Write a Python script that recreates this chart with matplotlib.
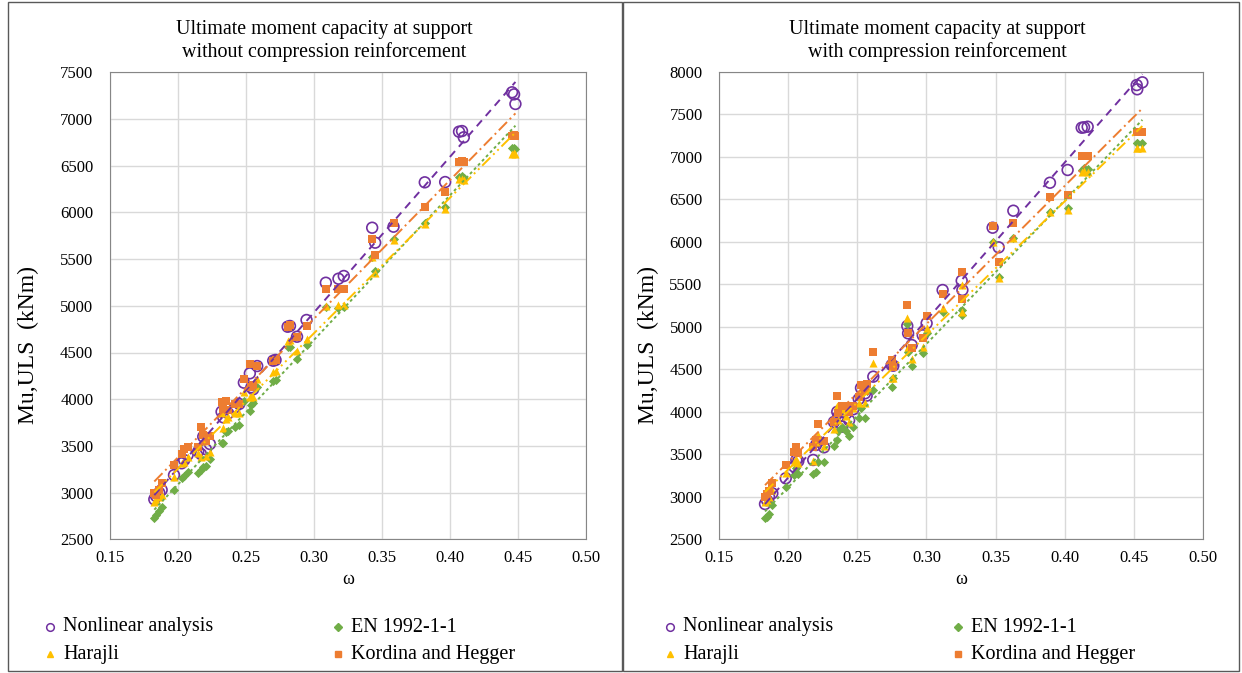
import numpy as np
import matplotlib
matplotlib.use('Agg')
import matplotlib.pyplot as plt
from matplotlib.lines import Line2D
from matplotlib.patches import Rectangle

plt.rcParams['font.family'] = ['Liberation Serif', 'DejaVu Serif']

# --- dados: painel esquerdo (sem armadura de compressao) ---
omega_esq = [0.1826, 0.1838, 0.1862, 0.1880, 0.1971, 0.2027, 0.2046, 0.2071, 0.2149, 0.2169,
             0.2186, 0.2206, 0.2235, 0.2321, 0.2333, 0.2353, 0.2370, 0.2419, 0.2451, 0.2485,
             0.2529, 0.2540, 0.2553, 0.2583, 0.2701, 0.2718, 0.2807, 0.2824, 0.2876, 0.2946,
             0.3088, 0.3181, 0.3220, 0.3429, 0.3451, 0.3586, 0.3816, 0.3966, 0.4068, 0.4090,
             0.4103, 0.4458, 0.4473, 0.4483]
nl_esq = [2928, 2964, 2999, 3028, 3188, 3314, 3349, 3403, 3440, 3413,
          3599, 3464, 3520, 3866, 3806, 3913, 3849, 3913, 3949, 4177,
          4277, 4127, 4106, 4355, 4412, 4420, 4776, 4784, 4669, 4848,
          5247, 5290, 5319, 5836, 5676, 5847, 6322, 6325, 6864, 6871,
          6804, 7286, 7264, 7161]
en_esq = [2725, 2760, 2800, 2849, 3028, 3153, 3178, 3224, 3210, 3242,
          3271, 3285, 3357, 3534, 3534, 3646, 3660, 3706, 3724, 3984,
          3877, 3938, 3960, 4127, 4198, 4206, 4563, 4563, 4427, 4580,
          4990, 4980, 4985, 5526, 5369, 5715, 5890, 6061, 6380, 6390,
          6370, 6686, 6690, 6680]
har_esq = [2903, 2920, 2950, 2974, 3170, 3314, 3331, 3384, 3420, 3384,
           3550, 3392, 3438, 3849, 3688, 3792, 3813, 3856, 3856, 4080,
           4027, 4150, 4027, 4213, 4294, 4300, 4627, 4634, 4520, 4642,
           5000, 5010, 5010, 5526, 5355, 5705, 5876, 6033, 6354, 6360,
           6350, 6625, 6640, 6630]
kor_esq = [2993, 2970, 3028, 3106, 3296, 3413, 3464, 3491, 3491, 3706,
           3620, 3550, 3606, 3974, 3900, 3984, 3884, 3949, 3949, 4213,
           4377, 4130, 4150, 4355, 4412, 4420, 4770, 4790, 4670, 4784,
           5177, 5183, 5183, 5718, 5547, 5890, 6061, 6218, 6540, 6545,
           6540, 6821, 6830, 6821]

# --- dados: painel direito (com armadura de compressao) ---
omega_dir = [0.1831, 0.1845, 0.1860, 0.1884, 0.1981, 0.2043, 0.2058, 0.2072, 0.2180, 0.2200,
             0.2215, 0.2258, 0.2330, 0.2354, 0.2362, 0.2391, 0.2420, 0.2440, 0.2470, 0.2510,
             0.2526, 0.2555, 0.2567, 0.2615, 0.2748, 0.2760, 0.2861, 0.2867, 0.2893, 0.2973,
             0.3001, 0.3117, 0.3255, 0.3260, 0.3479, 0.3523, 0.3629, 0.3894, 0.4022, 0.4124,
             0.4141, 0.4167, 0.4522, 0.4526, 0.4563]
nl_dir = [2915, 2960, 3000, 3041, 3218, 3354, 3433, 3420, 3433, 3609,
          3650, 3582, 3880, 4000, 3943, 3825, 3980, 3900, 4030, 4150,
          4280, 4217, 4190, 4413, 4550, 4542, 5009, 4923, 4785, 4900,
          5041, 5432, 5542, 5432, 6165, 5934, 6365, 6694, 6844, 7341,
          7346, 7353, 7843, 7793, 7875]
en_dir = [2747, 2766, 2800, 2900, 3112, 3256, 3335, 3268, 3268, 3295,
          3413, 3413, 3600, 3668, 3770, 3817, 3770, 3720, 3817, 3923,
          4050, 3923, 4248, 4256, 4288, 4400, 5032, 4706, 4538, 4695,
          4924, 5178, 5138, 5200, 6000, 5582, 6040, 6353, 6393, 6840,
          6864, 6850, 7158, 7158, 7158]
har_dir = [2942, 2962, 3000, 3080, 3276, 3413, 3440, 3400, 3420, 3650,
           3727, 3600, 3800, 4068, 3900, 4029, 3950, 3880, 4045, 4100,
           4250, 4100, 4290, 4570, 4394, 4393, 5099, 4760, 4617, 4758,
           4982, 5217, 5177, 5491, 6000, 5570, 6040, 6345, 6373, 6825,
           6830, 6820, 7099, 7099, 7099]
kor_dir = [3001, 3030, 3068, 3159, 3370, 3530, 3582, 3511, 3590, 3668,
           3853, 3660, 3883, 4186, 3990, 4068, 4068, 4000, 4068, 4177,
           4315, 4250, 4330, 4706, 4609, 4530, 5256, 4930, 4745, 4870,
           5126, 5382, 5648, 5326, 6189, 5758, 6224, 6523, 6546, 7008,
           7008, 7008, 7287, 7287, 7287]

nomes = ['Nonlinear analysis', 'EN 1992-1-1', 'Harajli', 'Kordina and Hegger']
cores = ['#7030A0', '#70AD47', '#FFC000', '#ED7D31']
marcadores = ['o', 'D', '^', 's']
estilos = [(0, (4, 3)), (0, (1.5, 1.5)), (0, (6, 2, 1, 2, 1, 2)), (0, (6, 2, 1, 2))]

W, H = 1242, 673
fig = plt.figure(figsize=(W / 100, H / 100), dpi=100)


def fx(px):
    return px / W


def fy(py):
    return 1 - py / H


# molduras dos dois paineis
fig.patches.append(Rectangle((fx(8), fy(671)), fx(614), 669 / H, transform=fig.transFigure,
                             fill=False, edgecolor='#595959', linewidth=1))
fig.patches.append(Rectangle((fx(623), fy(671)), fx(616), 669 / H, transform=fig.transFigure,
                             fill=False, edgecolor='#595959', linewidth=1))


def painel(box, omega, series, titulo, ymax, dx):
    x0, y0, x1, y1 = box
    ax = fig.add_axes([fx(x0), fy(y1), fx(x1 - x0), (y1 - y0) / H])
    for vals, nome, cor, mk, ls in zip(series, nomes, cores, marcadores, estilos):
        if mk == 'o':
            ax.scatter(omega, vals, s=60, marker='o', facecolors='none', edgecolors=cor,
                       linewidths=1.2, zorder=3)
        else:
            tam = {'D': 22, '^': 34, 's': 26}[mk]
            ax.scatter(omega, vals, s=tam, marker=mk, color=cor, linewidths=0, zorder=3)
        # linha de tendencia linear
        a, b = np.polyfit(omega, vals, 1)
        xs = np.array([min(omega), max(omega)])
        ax.plot(xs, a * xs + b, color=cor, linestyle=ls, linewidth=1.4, zorder=4)

    ax.set_xlim(0.15, 0.50)
    ax.set_ylim(2500, ymax)
    ticks_x = np.arange(0.15, 0.501, 0.05)
    ax.set_xticks(ticks_x)
    ax.set_xticklabels(['%.2f' % t for t in ticks_x])
    ax.set_yticks(np.arange(2500, ymax + 1, 500))
    ax.tick_params(length=0, labelsize=12)
    ax.tick_params(axis='y', pad=12)
    ax.tick_params(axis='x', pad=8)
    ax.grid(True, color='#D9D9D9', linewidth=1)
    ax.set_axisbelow(True)
    for sp in ax.spines.values():
        sp.set_color('#868686')
    ax.set_xlabel('ω', fontsize=13, labelpad=3)

    # titulo centrado na area do grafico
    fig.text(fx((x0 + x1) / 2 - 24), fy(41), titulo, ha='center', va='center',
             fontsize=14.4, linespacing=1.2)
    fig.text(fx(dx + 28), fy(345), 'Mu,ULS  (kNm)', rotation=90, ha='center', va='center',
             fontsize=17)

    # legenda manual em duas colunas
    itens = [(0, 50, 627), (2, 50, 654), (1, 338, 627), (3, 338, 654)]
    for i, mx, my in itens:
        if marcadores[i] == 'o':
            h = Line2D([fx(dx + mx)], [fy(my)], transform=fig.transFigure, linestyle='none',
                       marker='o', markerfacecolor='none', markeredgecolor=cores[i],
                       markersize=5.5, markeredgewidth=1.1)
        else:
            h = Line2D([fx(dx + mx)], [fy(my)], transform=fig.transFigure, linestyle='none',
                       marker=marcadores[i], color=cores[i],
                       markersize={'D': 4, '^': 5, 's': 4.5}[marcadores[i]])
        fig.add_artist(h)
        fig.text(fx(dx + mx + 13), fy(my), nomes[i], ha='left', va='center', fontsize=14.5)
    return ax


painel((110, 72.3, 585.7, 539.3), omega_esq, [nl_esq, en_esq, har_esq, kor_esq],
       'Ultimate moment capacity at support\nwithout compression reinforcement', 7500, 0)
painel((719.3, 71.7, 1202.7, 539.3), omega_dir, [nl_dir, en_dir, har_dir, kor_dir],
       'Ultimate moment capacity at support\nwith compression reinforcement', 8000, 620)

fig.savefig('out.png', dpi=100)
